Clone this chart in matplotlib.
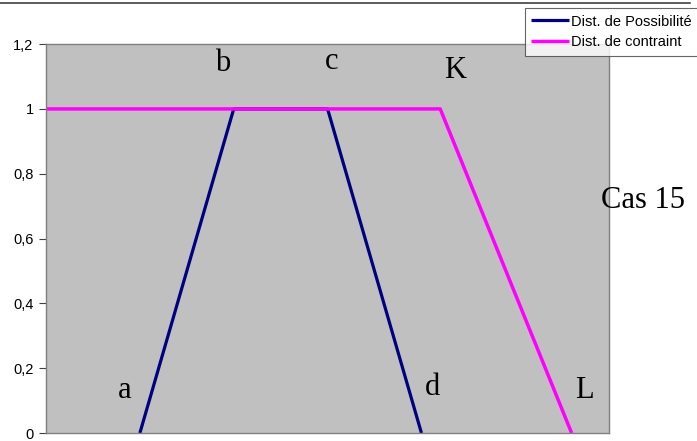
import matplotlib
matplotlib.use("Agg")
import matplotlib.pyplot as plt
from matplotlib.lines import Line2D

# donnees (x en unites arbitraires 0..30)
x_poss = [5, 10, 15, 20]
y_poss = [0, 1, 1, 0]
x_contr = [0, 21, 28]
y_contr = [1, 1, 0]
point_labels = ["a", "b", "c", "d", "K", "L"]
yticks = [0, 0.2, 0.4, 0.6, 0.8, 1.0, 1.2]
ytick_labels = ["0", "0,2", "0,4", "0,6", "0,8", "1", "1,2"]

fig = plt.figure(figsize=(6.97, 4.41), dpi=100)
ax = fig.add_axes([0.066, 0.018, 0.808, 0.882])
ax.set_facecolor("#c0c0c0")

l1, = ax.plot(x_poss, y_poss, color="#000080", lw=2.3, solid_capstyle="butt")
l2, = ax.plot(x_contr, y_contr, color="#ff00ff", lw=2.5, solid_capstyle="butt")
ax.set_xlim(0, 30)
ax.set_ylim(0, 1.2)
ax.set_xticks([])
ax.set_yticks(yticks)
ax.set_yticklabels(ytick_labels, fontsize=10.5, family="Liberation Sans")
ax.tick_params(axis="y", length=5, width=0.8, color="#404040", pad=4)
for s in ax.spines.values():
    s.set_color("#808080")
    s.set_linewidth(1)

# etiquettes des points
serif = dict(family="Liberation Serif", fontsize=22, ha="center", va="center")
pos = [(4.2, 0.13), (9.4, 1.14), (15.2, 1.145), (20.6, 0.14), (21.8, 1.12), (28.7, 0.13)]
for lab, (px, py) in zip(point_labels, pos):
    ax.text(px, py, lab, **serif)
fig.text(0.923, 0.546, "Cas 15", family="Liberation Serif", fontsize=22, ha="center", va="center")

# ligne en haut de la figure
fig.add_artist(Line2D([0, 0.99], [0.993, 0.993], color="#404040", lw=1.2, transform=fig.transFigure))

leg = fig.legend([l1, l2], ["Dist. de Possibilité", "Dist. de contraint"],
                 loc="upper left", bbox_to_anchor=(0.753, 0.982),
                 prop={"family": "Liberation Sans", "size": 10.5},
                 frameon=True, fancybox=False, handlelength=2.6, handletextpad=0.1,
                 borderpad=0.45, labelspacing=0.45, borderaxespad=0)
leg.get_frame().set_edgecolor("#404040")
leg.get_frame().set_linewidth(0.8)

fig.savefig("out.png", dpi=100)
